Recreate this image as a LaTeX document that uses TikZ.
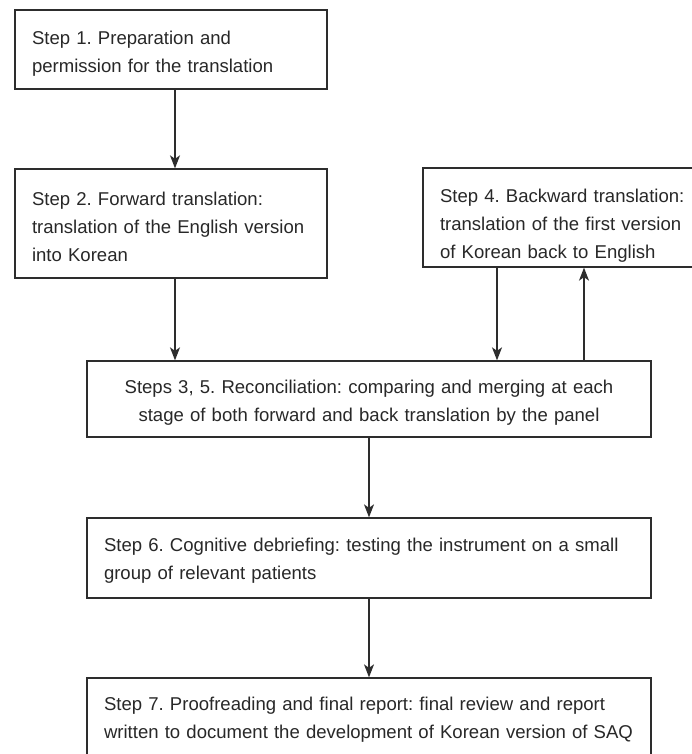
\documentclass[tikz,border=0pt]{standalone}
\usepackage{fontspec}
\setmainfont{Liberation Sans}
\frenchspacing
\usetikzlibrary{arrows.meta}
\definecolor{ink}{RGB}{40,40,40}
\definecolor{edge}{RGB}{45,45,45}
\begin{document}
\begin{tikzpicture}[x=1pt,y=-1pt,
  box/.style={draw=edge, line width=1.3pt, rectangle, inner xsep=17pt, inner ysep=0pt,
    text=ink, font=\fontsize{18.55}{28}\selectfont\frenchspacing, align=left},
  drop/.style={execute at begin node={\rule{0pt}{#1}}},
  arr/.style={draw=edge, line width=1.3pt, -{Stealth[length=13pt,width=10pt,inset=3.5pt]}}]
\useasboundingbox (0,0) rectangle (691,754);
\fill[white] (0,0) rectangle (691,754);
\node[box, drop=22pt, minimum width=312pt, minimum height=79pt, text width=278pt] (s1) at (171,49.5)
  {\mbox{Step 1. Preparation and}\\\mbox{permission for the translation}};
\node[box, drop=20pt, minimum width=312pt, minimum height=109pt, text width=278pt] (s2) at (171,223.5)
  {\mbox{Step 2. Forward translation:}\\\mbox{translation of the English version}\\\mbox{into Korean}};
\node[box, drop=30pt, minimum width=297pt, minimum height=99pt, text width=263pt] (s4) at (571.5,217.5)
  {\mbox{Step 4. Backward translation:}\\\mbox{translation of the first version}\\\mbox{of Korean back to English}};
\node[box, drop=20pt, minimum width=564pt, minimum height=76pt, text width=530pt, align=center] (s35) at (369,399)
  {\mbox{Steps 3, 5. Reconciliation: comparing and merging at each}\\\mbox{stage of both forward and back translation by the panel}};
\node[box, drop=18pt, minimum width=564pt, minimum height=80pt, text width=530pt] (s6) at (369,558)
  {\mbox{Step 6. Cognitive debriefing: testing the instrument on a small}\\\mbox{group of relevant patients}};
\node[box, drop=18pt, minimum width=564pt, minimum height=79pt, text width=530pt] (s7) at (369,717.5)
  {\mbox{Step 7. Proofreading and final report: final review and report}\\\mbox{written to document the development of Korean version of SAQ}};
\coordinate (cA) at (175,0);
\coordinate (cB) at (497,0);
\coordinate (cC) at (584,0);
\draw[arr] (s1.south -| cA) -- (s2.north -| cA);
\draw[arr] (s2.south -| cA) -- (s35.north -| cA);
\draw[arr] (s4.south -| cB) -- (s35.north -| cB);
\draw[arr] (s35.north -| cC) -- (s4.south -| cC);
\draw[arr] (s35.south) -- (s6.north);
\draw[arr] (s6.south) -- (s7.north);
\end{tikzpicture}
\end{document}
